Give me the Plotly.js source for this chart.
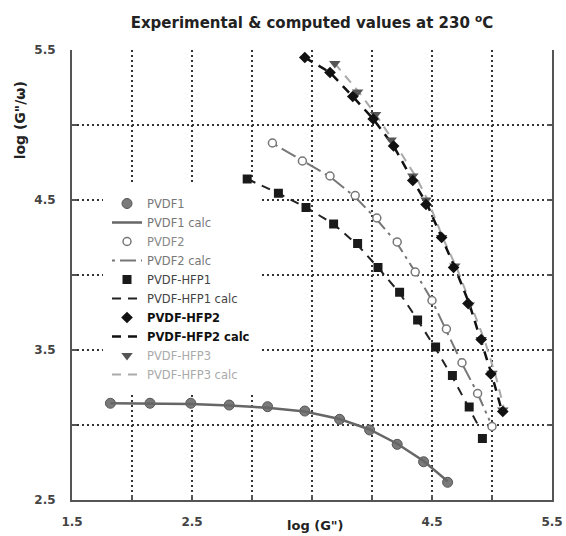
<!DOCTYPE html>
<html>
<head>
<meta charset="utf-8">
<script src="https://cdn.plot.ly/plotly-3.0.1.min.js"></script>
<style>html,body{margin:0;padding:0;background:#fff;}#chart{width:566px;height:536px;}</style>
</head>
<body>
<div id="chart"></div>
<script>
// ---- data ----
const pvdf1X = [1.82, 2.15, 2.49, 2.81, 3.13, 3.44, 3.73, 3.98, 4.21, 4.43, 4.63];
const pvdf1Y = [3.145, 3.145, 3.145, 3.133, 3.122, 3.093, 3.038, 2.967, 2.871, 2.755, 2.618];
const pvdf1CalcX = [1.82, 2.15, 2.49, 2.81, 3.13, 3.44, 3.73, 3.98, 4.21, 4.43, 4.63];
const pvdf1CalcY = [3.145, 3.143, 3.14, 3.13, 3.115, 3.09, 3.04, 2.97, 2.875, 2.76, 2.625];

const pvdf2X = [3.17, 3.42, 3.65, 3.86, 4.04, 4.21, 4.36, 4.50, 4.62, 4.75, 4.88, 5.00];
const pvdf2Y = [4.88, 4.76, 4.66, 4.53, 4.38, 4.22, 4.02, 3.83, 3.64, 3.415, 3.21, 2.99];
const pvdf2CalcX = [3.19, 3.42, 3.65, 3.86, 4.04, 4.21, 4.36, 4.50, 4.62, 4.75, 4.88, 4.98];
const pvdf2CalcY = [4.87, 4.76, 4.655, 4.52, 4.37, 4.21, 4.02, 3.83, 3.63, 3.41, 3.21, 3.03];

const hfp1X = [2.96, 3.22, 3.45, 3.68, 3.88, 4.05, 4.23, 4.38, 4.53, 4.67, 4.81, 4.92];
const hfp1Y = [4.64, 4.545, 4.45, 4.34, 4.21, 4.05, 3.885, 3.70, 3.52, 3.33, 3.12, 2.91];
const hfp1CalcX = [2.96, 3.22, 3.45, 3.68, 3.88, 4.05, 4.23, 4.38, 4.53, 4.67, 4.81, 4.89];
const hfp1CalcY = [4.64, 4.545, 4.45, 4.34, 4.20, 4.05, 3.88, 3.70, 3.51, 3.32, 3.11, 2.99];

const hfp2X = [3.44, 3.65, 3.84, 4.01, 4.18, 4.34, 4.45, 4.58, 4.68, 4.80, 4.91, 4.99, 5.09];
const hfp2Y = [5.45, 5.35, 5.19, 5.04, 4.86, 4.63, 4.47, 4.25, 4.05, 3.81, 3.57, 3.34, 3.09];
const hfp2CalcX = [3.44, 3.65, 3.84, 4.01, 4.18, 4.34, 4.46, 4.58, 4.69, 4.81, 4.91, 5.00, 5.08];
const hfp2CalcY = [5.45, 5.35, 5.19, 5.04, 4.86, 4.63, 4.47, 4.25, 4.05, 3.81, 3.56, 3.33, 3.10];

const hfp3X = [3.69, 3.88, 4.03, 4.16, 4.34, 4.45, 4.58, 4.69, 4.81, 4.91, 5.00, 5.09];
const hfp3Y = [5.41, 5.22, 5.07, 4.90, 4.66, 4.50, 4.25, 4.06, 3.80, 3.57, 3.345, 3.10];
const hfp3CalcX = [3.69, 3.89, 4.04, 4.18, 4.37, 4.47, 4.60, 4.71, 4.83, 4.94, 5.03, 5.11];
const hfp3CalcY = [5.41, 5.22, 5.06, 4.89, 4.65, 4.49, 4.23, 4.04, 3.79, 3.56, 3.33, 3.08];

const xTickVals = [1.5, 2.5, 4.5, 5.5];
const xTickText = ['1.5', '2.5', '4.5', '5.5'];
const yTickVals = [2.5, 3.5, 4.5, 5.5];
const yTickText = ['2.5', '3.5', '4.5', '5.5'];

const names = [
  '<span style="color:#777">PVDF1</span>',
  '<span style="color:#777">PVDF1 calc</span>',
  '<span style="color:#888">PVDF2</span>',
  '<span style="color:#777">PVDF2 calc</span>',
  '<span style="color:#444">PVDF-HFP1</span>',
  '<span style="color:#444">PVDF-HFP1 calc</span>',
  '<b><span style="color:#111">PVDF-HFP2</span></b>',
  '<b><span style="color:#111">PVDF-HFP2 calc</span></b>',
  '<span style="color:#aaa">PVDF-HFP3</span>',
  '<span style="color:#aaa">PVDF-HFP3 calc</span>'
];

const traces = [
  {x: pvdf1X, y: pvdf1Y, name: names[0], mode: 'markers', legendrank: 1,
   marker: {symbol: 'circle', size: 10, color: '#7a7a7a', line: {color: '#555', width: 1}}},
  {x: pvdf1CalcX, y: pvdf1CalcY, name: names[1], mode: 'lines', legendrank: 2,
   line: {color: '#666', width: 2.5}},
  {x: pvdf2CalcX, y: pvdf2CalcY, name: names[3], mode: 'lines', legendrank: 4,
   line: {color: '#777', width: 2, dash: '3px,5px,16px,5px'}},
  {x: pvdf2X, y: pvdf2Y, name: names[2], mode: 'markers', legendrank: 3,
   marker: {symbol: 'circle', size: 8, color: '#fff', line: {color: '#777', width: 1.5}}},
  {x: hfp1CalcX, y: hfp1CalcY, name: names[5], mode: 'lines', legendrank: 6,
   line: {color: '#222', width: 2, dash: '9px,7px'}},
  {x: hfp1X, y: hfp1Y, name: names[4], mode: 'markers', legendrank: 5,
   marker: {symbol: 'square', size: 9, color: '#1a1a1a'}},
  {x: hfp3CalcX, y: hfp3CalcY, name: names[9], mode: 'lines', legendrank: 10,
   line: {color: '#aaa', width: 2, dash: '9px,7px'}},
  {x: hfp2CalcX, y: hfp2CalcY, name: names[7], mode: 'lines', legendrank: 8,
   line: {color: '#111', width: 2.5, dash: '9px,7px'}},
  {x: hfp3X, y: hfp3Y, name: names[8], mode: 'markers', legendrank: 9,
   marker: {symbol: 'triangle-down', size: 10, color: '#555'}},
  {x: hfp2X, y: hfp2Y, name: names[6], mode: 'markers', legendrank: 7,
   marker: {symbol: 'diamond', size: 9, color: '#111'}}
];

const FONT = 'DejaVu Sans, Liberation Sans, Arial, sans-serif';
const axisFont = {family: FONT, size: 12, color: '#444', weight: 'bold'};
const gridStyle = {showgrid: true, gridcolor: '#333', griddash: '2px,3px', gridwidth: 1.2,
                   ticks: 'inside', ticklen: 5, tickcolor: '#555', tickwidth: 1.5};

const layout = {
  width: 566, height: 536,
  margin: {l: 72, r: 14, t: 50, b: 36},
  paper_bgcolor: '#fff', plot_bgcolor: '#fff',
  showlegend: true,
  title: {
    text: 'Experimental & computed values at 230 <sup>o</sup>C',
    font: {family: FONT, size: 15, color: '#222', weight: 'bold'},
    x: 0.5, xref: 'paper', y: 0.957, yref: 'container', yanchor: 'middle'
  },
  xaxis: Object.assign({
    range: [1.5, 5.5], tickmode: 'array', tickvals: xTickVals, ticktext: xTickText,
    showline: true, linecolor: '#555', linewidth: 2, mirror: false,
    ticklabelstandoff: 10, tickfont: axisFont, zeroline: false,
    minor: Object.assign({tickmode: 'linear', tick0: 1.5, dtick: 0.5}, gridStyle)
  }, gridStyle),
  yaxis: Object.assign({
    range: [2.5, 5.5], tickmode: 'array', tickvals: yTickVals, ticktext: yTickText,
    showline: true, linecolor: '#555', linewidth: 2, mirror: 'ticks',
    ticklabelstandoff: 12, tickfont: axisFont, zeroline: false,
    minor: Object.assign({tickmode: 'linear', tick0: 2.5, dtick: 0.5}, gridStyle)
  }, gridStyle),
  legend: {
    x: 0.0646, y: 0.70, xanchor: 'left', yanchor: 'top',
    bgcolor: '#fff', bordercolor: '#fff', borderwidth: 4, tracegroupgap: 0,
    font: {family: FONT, size: 11.5, color: '#555'}
  },
  annotations: [
    {text: 'log (G")', xref: 'paper', yref: 'paper', x: 0.508, y: -0.056,
     showarrow: false, xanchor: 'center', yanchor: 'middle',
     font: {family: FONT, size: 13, color: '#222', weight: 'bold'}},
    {text: 'log (G"/ω)', xref: 'paper', yref: 'paper', x: -0.108, y: 0.844,
     textangle: -90, showarrow: false, xanchor: 'center', yanchor: 'middle',
     font: {family: FONT, size: 14, color: '#222', weight: 'bold'}}
  ]
};

Plotly.newPlot('chart', traces, layout, {displayModeBar: false, staticPlot: true});
</script>
</body>
</html>
